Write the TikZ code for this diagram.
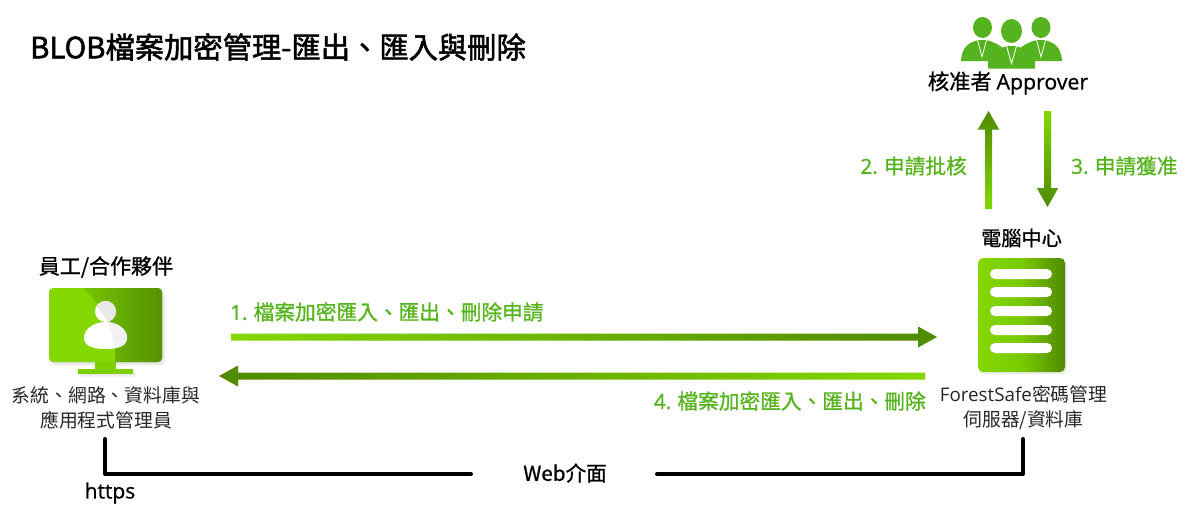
\documentclass[tikz,border=0pt]{standalone}
\usepackage{fontspec}
\setmainfont{Open Sans}
\newfontfamily\cjk{Noto Sans CJK TC}
\newfontfamily\cjkm[FakeBold=0.9]{Noto Sans CJK TC}
\newfontfamily\cjkb[FakeBold=1.8]{Noto Sans CJK TC}
\newfontfamily\latr{Open Sans}
\newfontfamily\latm[FakeBold=0.9]{Open Sans}
\usetikzlibrary{calc}
\definecolor{lg}{HTML}{84D800}
\definecolor{dg}{HTML}{4F8A00}
\definecolor{tg}{HTML}{55B31C}
\definecolor{ig}{HTML}{54B31E}
\tikzset{
  hd/.style={inner sep=0pt,text=black,align=center},
  sn/.style={inner sep=0pt,font=\cjk\fontsize{18.8}{25}\selectfont,text=black!85,align=center},
  gl/.style={inner sep=0pt,font=\cjkm\fontsize{20.7}{24}\selectfont,text=tg},
  wire/.style={line width=4pt,line cap=round,line join=round,black},
  bar/.style={fill=white,rounded corners=5pt}
}
\begin{document}
\begin{tikzpicture}[x=1pt,y=-1pt]
\useasboundingbox (0,0) rectangle (1186,520);

% title
\node[anchor=west,inner sep=0pt,font=\cjkb\fontsize{29.3}{32}\selectfont] (title) at (30,47) {BLOB檔案加密管理-匯出、匯入與刪除};

% monitor
\node[hd,font=\cjkm\fontsize{21}{24}\selectfont] (emp) at (106,267) {員工/合作夥伴};
\foreach \d in {1,2,3,4}{
  \fill[black,opacity=0.03,rounded corners=5pt] (49+\d/2,288+\d) rectangle (162+\d,362+\d);
  \fill[black,opacity=0.025] (78+\d/2,369+\d) rectangle (133+\d,374+\d);
}
\fill[rounded corners=4pt,lg] (49,288) rectangle (162,362);
\begin{scope}
  \clip[rounded corners=4pt] (49,288) rectangle (162,362);
  \path[left color=lg!75!dg,right color=dg!90!lg] (83,288) .. controls (100,304) and (115,325) .. (115,348)
     -- (115,362) -- (162,362) -- (162,288) -- cycle;
\end{scope}
\fill[lg!88!dg] (95,362) rectangle (116,369);
\fill[lg!88!dg] (78,369) rectangle (133,374);
\fill[white] (105.5,311.5) circle (10.5);
\fill[white] (84,338) .. controls (84,328) and (95,322) .. (105.5,322)
   .. controls (116,322) and (127,328) .. (127,338) .. controls (127,345) and (120,349) .. (105.5,349)
   .. controls (91,349) and (84,345) .. (84,338) -- cycle;
\begin{scope}
  \clip (96,300) -- (119,300) -- (119,323) -- (108,323) .. controls (104,315) and (100,309) .. (96,306) -- cycle;
  \fill[black!9] (105.5,311.5) circle (10.5);
\end{scope}
\begin{scope}
  \clip (108,322) -- (128,322) -- (128,350) -- (114,350) .. controls (113,340) and (111,330) .. (108,322) -- cycle;
  \fill[black!5] (84,338) .. controls (84,328) and (95,322) .. (105.5,322)
   .. controls (116,322) and (127,328) .. (127,338) .. controls (127,345) and (120,349) .. (105.5,349)
   .. controls (91,349) and (84,345) .. (84,338) -- cycle;
\end{scope}
\node[sn] (sysadm) at (106,408) {系統、網路、資料庫與\\應用程式管理員};

% server
\node[hd,font=\cjkm\fontsize{20.2}{24}\selectfont] (dc) at (1021.5,238) {電腦中心};
\foreach \d in {1,2,3}{
  \fill[black,opacity=0.03,rounded corners=5pt] (978+\d/2,258+\d) rectangle (1065+\d,372+\d);
}
\path[rounded corners=5pt,left color=lg,right color=dg,middle color=lg!82!dg]
  (978,258) rectangle (1065,372);
\foreach \yy in {274,292,311,330,348}{
  \fill[bar] (990,\yy-5) rectangle (1052,\yy+5);
}
\node[sn] (fs) at (1023.5,408) {{\latr ForestSafe}密碼管理\\伺服器/資料庫};

% approver icon
\fill[ig] (982.5,27.5) ellipse (9.5 and 10.5);
\fill[ig] (1041,27.5) ellipse (9.5 and 10.5);
\fill[ig] (961,61) .. controls (962,47) and (968,43) .. (978,40) -- (986,40) .. controls (994,42) and (1000,45) .. (1005,50)
   -- (1005,61) -- cycle;
\fill[ig] (1062,61) .. controls (1061,47) and (1055,43) .. (1045,40) -- (1037,40) .. controls (1029,42) and (1023,45) .. (1018,50)
   -- (1018,61) -- cycle;
\fill[ig] (1011.5,31) ellipse (10.5 and 12);
\fill[ig] (988,68.5) -- (988,58) -- (996,50) -- (1007,46) -- (1016,46) -- (1027,50) -- (1035,58) -- (1035,68.5) -- cycle;
\draw[white,line width=0.9pt] (1006.5,46) -- (1011.5,63.5) -- (1016.5,46);
\draw[white,line width=0.8pt] (977.5,40) -- (982,57) -- (986.5,40);
\draw[white,line width=0.8pt] (1036.5,40) -- (1041,57) -- (1045.5,40);
\node[hd,font=\cjkm\fontsize{21.3}{24}\selectfont] (appr) at (1008,83) {核准者 {\latm Approver}};

% connector anchors
\coordinate (a1s) at (231,337);
\coordinate (a1e) at (937,337);
\coordinate (a4s) at (925,376);
\coordinate (a4e) at (219,376);
\coordinate (a2s) at (988.5,209);
\coordinate (a2e) at (988.5,111);
\coordinate (a3s) at (1047.5,111);
\coordinate (a3e) at (1047.5,207);

% arrows
\path[left color=lg,right color=dg] ($(a1s)+(0,-3.5)$) -- ($(a1e)+(-19,-3.5)$) -- ($(a1e)+(-19,-10.5)$) -- (a1e)
  -- ($(a1e)+(-19,10.5)$) -- ($(a1e)+(-19,3.5)$) -- ($(a1s)+(0,3.5)$) -- cycle;
\path[right color=lg,left color=dg] ($(a4s)+(0,-3.5)$) -- ($(a4e)+(19,-3.5)$) -- ($(a4e)+(19,-10.5)$) -- (a4e)
  -- ($(a4e)+(19,10.5)$) -- ($(a4e)+(19,3.5)$) -- ($(a4s)+(0,3.5)$) -- cycle;
\path[top color=dg,bottom color=lg] ($(a2s)+(-3.5,0)$) -- ($(a2e)+(-3.5,18.5)$) -- ($(a2e)+(-10.7,18.5)$) -- (a2e)
  -- ($(a2e)+(10.7,18.5)$) -- ($(a2e)+(3.5,18.5)$) -- ($(a2s)+(3.5,0)$) -- cycle;
\path[top color=lg,bottom color=dg] ($(a3s)+(-3.5,0)$) -- ($(a3e)+(-3.5,-19)$) -- ($(a3e)+(-10.7,-19)$) -- (a3e)
  -- ($(a3e)+(10.7,-19)$) -- ($(a3e)+(3.5,-19)$) -- ($(a3s)+(3.5,0)$) -- cycle;

% arrow labels
\node[gl,anchor=west] (l1) at (230,312) {{\latm 1.} 檔案加密匯入、匯出、刪除申請};
\node[gl,anchor=east] (l4) at (926,401) {{\latm 4.} 檔案加密匯入、匯出、刪除};
\node[gl,anchor=east] (l2) at (967,166) {{\latm 2.} 申請批核};
\node[gl,anchor=west] (l3) at (1071,166) {{\latm 3.} 申請獲准};

% web interface wires
\node[inner sep=0pt,font=\cjkm\fontsize{20.6}{24}\selectfont] (web) at (565,473) {Web介面};
\node[inner sep=0pt,font=\latm\fontsize{21}{24}\selectfont] (https) at (110,493) {https};
\coordinate (wl) at (105,439);
\coordinate (wle) at (471,474);
\coordinate (wr) at (1023,439);
\coordinate (wre) at (657,474);
\draw[wire] (wl) |- (wle);
\draw[wire] (wr) |- (wre);
\end{tikzpicture}
\end{document}
